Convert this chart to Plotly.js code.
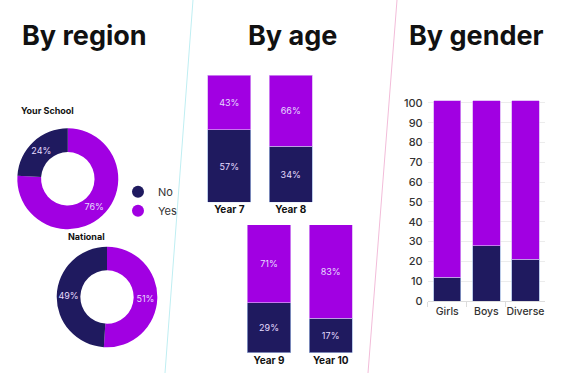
<!DOCTYPE html>
<html>
<head>
<meta charset="utf-8">
<script src="https://cdn.plot.ly/plotly-3.0.1.min.js"></script>
<style>html,body{margin:0;padding:0;background:#fff;}#chart{width:570px;height:373px;}</style>
</head>
<body>
<div id="chart"></div>
<script>
// ---- data ----
const regionLabels = ['No', 'Yes'];
const schoolValues = [24, 76];
const nationalValues = [49, 51];

const ageTopCats = ['Year 7', 'Year 8'];
const ageTopNo = [57, 44];
const ageTopYes = [43, 56];
const ageTopNoText = ['57%', '34%'];
const ageTopYesText = ['43%', '66%'];

const ageBotCats = ['Year 9', 'Year 10'];
const ageBotNo = [39, 27];
const ageBotYes = [61, 73];
const ageBotNoText = ['29%', '17%'];
const ageBotYesText = ['71%', '83%'];

const genderCats = ['Girls', 'Boys', 'Diverse'];
const genderNo = [12, 28, 21];
const genderYes = [89, 73, 80];

const panelTitles = ['By region', 'By age', 'By gender'];
const donutTitles = ['Your School', 'National'];

// ---- style ----
const NAVY = '#1f1a5f';
const PURPLE = '#a100e2';
const FONT = 'Inter, "Open Sans", sans-serif';
const inText = {family: FONT, size: 9, color: '#e6dcff'};
const edgeNo = {color: '#9fb6e0', width: 0.7};
const edgeYes = {color: '#d9a8f5', width: 0.7};

// slices drawn Yes first (clockwise from 12 o'clock) so No sits counter-clockwise of the top
const rev = a => a.slice().reverse();
function donut(values, dom) {
  return {type: 'pie', labels: rev(regionLabels), values: rev(values), hole: 0.53, sort: false,
    direction: 'clockwise', rotation: 0,
    marker: {colors: [PURPLE, NAVY], line: {color: '#ffffff', width: 0}},
    texttemplate: '%{value}%', textposition: 'inside', insidetextorientation: 'auto',
    textfont: {family: FONT, size: 9, color: '#e6dcff'}, showlegend: false, hoverinfo: 'label+value',
    domain: dom};
}

const traces = [
  donut(schoolValues, {x: [0.0304, 0.2075], y: [0.3853, 0.6560]}),
  donut(nationalValues, {x: [0.0995, 0.2760], y: [0.0689, 0.3386]}),
  // legend entries
  {type: 'scatter', mode: 'markers', x: [null], y: [null], name: regionLabels[0],
   marker: {color: NAVY, size: 12, symbol: 'circle'}, xaxis: 'x', yaxis: 'y', hoverinfo: 'skip'},
  {type: 'scatter', mode: 'markers', x: [null], y: [null], name: regionLabels[1],
   marker: {color: PURPLE, size: 12, symbol: 'circle'}, xaxis: 'x', yaxis: 'y', hoverinfo: 'skip'},
  // age top
  {type: 'bar', x: ageTopCats, y: ageTopNo, text: ageTopNoText, textposition: 'inside',
   insidetextanchor: 'middle', textfont: inText, marker: {color: NAVY, line: edgeNo},
   xaxis: 'x2', yaxis: 'y2', showlegend: false},
  {type: 'bar', x: ageTopCats, y: ageTopYes, text: ageTopYesText, textposition: 'inside',
   insidetextanchor: 'middle', textfont: inText, marker: {color: PURPLE, line: edgeYes},
   xaxis: 'x2', yaxis: 'y2', showlegend: false},
  // age bottom
  {type: 'bar', x: ageBotCats, y: ageBotNo, text: ageBotNoText, textposition: 'inside',
   insidetextanchor: 'middle', textfont: inText, marker: {color: NAVY, line: edgeNo},
   xaxis: 'x3', yaxis: 'y3', showlegend: false},
  {type: 'bar', x: ageBotCats, y: ageBotYes, text: ageBotYesText, textposition: 'inside',
   insidetextanchor: 'middle', textfont: inText, marker: {color: PURPLE, line: edgeYes},
   xaxis: 'x3', yaxis: 'y3', showlegend: false},
  // gender
  {type: 'bar', x: genderCats, y: genderNo, marker: {color: NAVY, line: edgeNo},
   xaxis: 'x', yaxis: 'y', showlegend: false, textposition: 'none'},
  {type: 'bar', x: genderCats, y: genderYes, marker: {color: PURPLE, line: edgeYes},
   xaxis: 'x', yaxis: 'y', showlegend: false, textposition: 'none'}
];

const yearTick = {family: FONT, size: 10, color: '#111', weight: 700};

const layout = {
  width: 570, height: 373,
  margin: {l: 0, r: 0, t: 0, b: 0},
  paper_bgcolor: '#ffffff', plot_bgcolor: 'rgba(0,0,0,0)',
  font: {family: FONT, color: '#333'},
  barmode: 'stack',
  showlegend: true,
  legend: {x: 0.207, y: 0.525, xanchor: 'left', yanchor: 'top', bgcolor: 'rgba(0,0,0,0)',
           traceorder: 'normal',
           font: {family: FONT, size: 11, color: '#333'}, tracegroupgap: 0, itemclick: false},
  xaxis: {domain: [0.7504, 0.9561], type: 'category', categoryorder: 'array', categoryarray: genderCats,
          showline: true, linecolor: '#dcdcdc', linewidth: 1, ticks: 'outside', tickson: 'boundaries',
          ticklen: 5, tickcolor: '#dcdcdc', showgrid: false, fixedrange: true, tickangle: 0,
          tickfont: {family: FONT, size: 10.5, color: '#333', weight: 500}},
  yaxis: {domain: [0.193, 0.7507], range: [0, 105], dtick: 10, tick0: 0, showgrid: true,
          gridcolor: '#ececec', gridwidth: 1, zeroline: false, showline: false, ticks: '',
          ticklabelstandoff: 4, fixedrange: true,
          tickfont: {family: FONT, size: 11, color: '#333', weight: 500}},
  xaxis2: {domain: [0.3484, 0.5639], anchor: 'y2', type: 'category', showline: false, ticks: '',
           showgrid: false, tickfont: yearTick, fixedrange: true},
  yaxis2: {domain: [0.4576, 0.7989], anchor: 'x2', range: [0, 100], visible: false, fixedrange: true},
  xaxis3: {domain: [0.4179, 0.6342], anchor: 'y3', type: 'category', showline: false, ticks: '',
           showgrid: false, tickfont: yearTick, fixedrange: true},
  yaxis3: {domain: [0.0544, 0.3968], anchor: 'x3', range: [0, 100], visible: false, fixedrange: true},
  bargap: 0.3,
  annotations: [
    {text: panelTitles[0], x: 20 / 570, y: 1 - 36 / 373, xref: 'paper', yref: 'paper', xanchor: 'left',
     yanchor: 'middle', showarrow: false, font: {family: FONT, size: 27, color: '#111', weight: 700}},
    {text: panelTitles[1], x: 292.5 / 570, y: 1 - 36 / 373, xref: 'paper', yref: 'paper', xanchor: 'center',
     yanchor: 'middle', showarrow: false, font: {family: FONT, size: 27, color: '#111', weight: 700}},
    {text: panelTitles[2], x: 476 / 570, y: 1 - 36 / 373, xref: 'paper', yref: 'paper', xanchor: 'center',
     yanchor: 'middle', showarrow: false, font: {family: FONT, size: 27, color: '#111', weight: 700}},
    {text: donutTitles[0], x: 19 / 570, y: 1 - 111 / 373, xref: 'paper', yref: 'paper', xanchor: 'left',
     yanchor: 'middle', showarrow: false, font: {family: FONT, size: 9, color: '#111', weight: 700}},
    {text: donutTitles[1], x: 86.3 / 570, y: 1 - 236.7 / 373, xref: 'paper', yref: 'paper', xanchor: 'center',
     yanchor: 'middle', showarrow: false, font: {family: FONT, size: 9, color: '#111', weight: 700}}
  ],
  shapes: [
    {type: 'line', xref: 'paper', yref: 'paper', x0: 193 / 570, y0: 1, x1: 165 / 570, y1: 0,
     line: {color: '#bfeef2', width: 1}},
    {type: 'line', xref: 'paper', yref: 'paper', x0: 397 / 570, y0: 1, x1: 368 / 570, y1: 0,
     line: {color: '#f2bcd9', width: 1}}
  ]
};

Plotly.newPlot('chart', traces, layout, {displayModeBar: false, staticPlot: true});
</script>
</body>
</html>
